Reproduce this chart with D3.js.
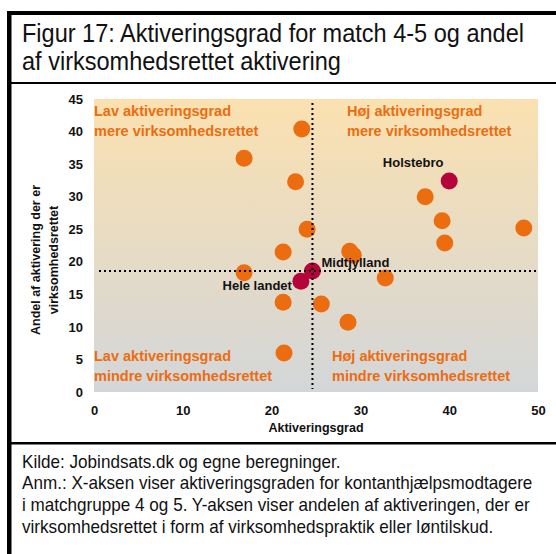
<!DOCTYPE html>
<html>
<head>
<meta charset="utf-8">
<script src="https://cdn.jsdelivr.net/npm/d3@7"></script>
<style>
  body { margin: 0; background: #fff; }
  svg { display: block; }
  .narrow { font-family: "Liberation Sans Narrow", "Arial Narrow", "Liberation Sans", Arial, sans-serif; }
  .bold { font-family: "Liberation Sans", Arial, sans-serif; font-weight: bold; }
</style>
</head>
<body>
<div id="chart"></div>
<script>
// data
const titleLines = ["Figur 17: Aktiveringsgrad for match 4-5 og andel", "af virksomhedsrettet aktivering"];
const noteLines = [
  "Kilde: Jobindsats.dk og egne beregninger.",
  "Anm.: X-aksen viser aktiveringsgraden for kontanthjælpsmodtagere",
  "i matchgruppe 4 og 5. Y-aksen viser andelen af aktiveringen, der er",
  "virksomhedsrettet i form af virksomhedspraktik eller løntilskud."
];
const xTicks = [0, 10, 20, 30, 40, 50];
const yTicks = [0, 5, 10, 15, 20, 25, 30, 35, 40, 45];

// kommuner (orange)
const kommuneX = [16.9, 23.4, 22.7, 24.0, 21.3, 16.9, 21.3, 25.6, 21.4, 28.6, 28.8, 29.2, 32.8, 37.3, 39.2, 39.5, 48.4];
const kommuneY = [35.9, 40.4, 32.3, 25.0, 21.5, 18.3, 13.8, 13.5, 6.0, 10.7, 21.6, 21.0, 17.5, 30.0, 26.3, 22.9, 25.2];

// highlighted (crimson)
const highlightNames = ["Holstebro", "Hele landet", "Midtjylland"];
const highlightX = [40.0, 23.3, 24.6];
const highlightY = [32.4, 17.0, 18.6];

// reference lines (Midtjylland)
const refX = 24.6;
const refY = 18.6;

const quadrantLabels = [
  ["Lav aktiveringsgrad", "mere virksomhedsrettet"],
  ["Høj aktiveringsgrad", "mere virksomhedsrettet"],
  ["Lav aktiveringsgrad", "mindre virksomhedsrettet"],
  ["Høj aktiveringsgrad", "mindre virksomhedsrettet"]
];

const W = 556, H = 554;
const orange = "#ec6d10";
const crimson = "#b5043a";

const svg = d3.select("#chart").append("svg")
  .attr("width", W)
  .attr("height", H);

// frame
svg.append("rect").attr("x", 7).attr("y", 11).attr("width", W - 7).attr("height", 4).attr("fill", "#000");
svg.append("rect").attr("x", 7).attr("y", 11).attr("width", 4.5).attr("height", H - 11).attr("fill", "#000");
svg.append("rect").attr("x", 7).attr("y", 82).attr("width", W - 7).attr("height", 2).attr("fill", "#000");
svg.append("rect").attr("x", 7).attr("y", 442).attr("width", W - 7).attr("height", 2.5).attr("fill", "#000");

// title (condensed look: taller font squeezed horizontally)
svg.append("g")
  .attr("transform", "translate(22,0) scale(0.905,1)")
  .selectAll("text")
  .data(titleLines)
  .enter()
  .append("text")
  .attr("class", "narrow")
  .attr("x", 0)
  .attr("y", (d, i) => 42 + i * 28)
  .attr("font-size", 26)
  .attr("fill", "#111")
  .text(d => d);

// notes
svg.append("g")
  .attr("transform", "translate(22,0) scale(0.935,1)")
  .selectAll("text")
  .data(noteLines)
  .enter()
  .append("text")
  .attr("class", "narrow")
  .attr("x", 0)
  .attr("y", (d, i) => 468 + i * 21.5)
  .attr("font-size", 18.3)
  .attr("fill", "#111")
  .text(d => d);

// scales
const x = d3.scaleLinear().domain([0, 50]).range([94, 538]);
const y = d3.scaleLinear().domain([0, 45]).range([392, 99]);

// background gradient
const grad = svg.append("defs").append("linearGradient")
  .attr("id", "bg")
  .attr("x1", 0).attr("y1", 0).attr("x2", 0).attr("y2", 1);
grad.append("stop").attr("offset", "0%").attr("stop-color", "#fbe1b0");
grad.append("stop").attr("offset", "100%").attr("stop-color", "#d3d6d9");

svg.append("rect")
  .attr("x", x(0))
  .attr("y", y(45))
  .attr("width", x(50) - x(0))
  .attr("height", y(0) - y(45))
  .attr("fill", "url(#bg)");

// axes (labels only)
const xAxis = d3.axisBottom(x).tickValues(xTicks).tickSize(0).tickPadding(0);
const yAxis = d3.axisLeft(y).tickValues(yTicks).tickSize(0).tickPadding(0);

const gx = svg.append("g")
  .attr("transform", "translate(0,406)")
  .call(xAxis);
const gy = svg.append("g")
  .attr("transform", "translate(83,0)")
  .call(yAxis);

[gx, gy].forEach(g => {
  g.select(".domain").remove();
  g.selectAll("text")
    .attr("class", "bold")
    .attr("font-size", 13)
    .attr("fill", "#111");
});
gx.selectAll("text").attr("dy", "0.71em").attr("y", 0);
gy.selectAll("text").attr("x", 0);

// axis titles
svg.append("text")
  .attr("class", "bold")
  .attr("x", (x(0) + x(50)) / 2)
  .attr("y", 432)
  .attr("text-anchor", "middle")
  .attr("font-size", 12.5)
  .attr("fill", "#111")
  .text("Aktiveringsgrad");

const yTitle = svg.append("text")
  .attr("class", "bold")
  .attr("transform", "translate(39.5,260) rotate(-90)")
  .attr("text-anchor", "middle")
  .attr("font-size", 12.5)
  .attr("fill", "#111");
yTitle.append("tspan").attr("x", 0).attr("y", 0).text("Andel af aktivering der er");
yTitle.append("tspan").attr("x", 0).attr("y", 18.5).text("virksomhedsrettet");

// quadrant labels
const qPos = [[94, 116], [347, 116], [94, 361], [332, 361]];
quadrantLabels.forEach((lines, i) => {
  const t = svg.append("text")
    .attr("class", "bold")
    .attr("font-size", 14.5)
    .attr("fill", orange);
  lines.forEach((l, j) => {
    t.append("tspan")
      .attr("x", qPos[i][0])
      .attr("y", qPos[i][1] + j * 19.5)
      .text(l);
  });
});

// points
const kommuner = kommuneX.map((d, i) => ({ x: d, y: kommuneY[i] }));
svg.append("g").selectAll("circle")
  .data(kommuner)
  .enter()
  .append("circle")
  .attr("cx", d => x(d.x))
  .attr("cy", d => y(d.y))
  .attr("r", 8.5)
  .attr("fill", orange);

const highlights = highlightNames.map((n, i) => ({ name: n, x: highlightX[i], y: highlightY[i] }));
svg.append("g").selectAll("circle")
  .data(highlights)
  .enter()
  .append("circle")
  .attr("cx", d => x(d.x))
  .attr("cy", d => y(d.y))
  .attr("r", 8.5)
  .attr("fill", crimson);

// reference lines
svg.append("line")
  .attr("x1", x(refX)).attr("x2", x(refX))
  .attr("y1", 103).attr("y2", 389)
  .attr("stroke", "#000")
  .attr("stroke-width", 2)
  .attr("stroke-dasharray", "2,3");
svg.append("line")
  .attr("x1", 99).attr("x2", 537)
  .attr("y1", y(refY)).attr("y2", y(refY))
  .attr("stroke", "#000")
  .attr("stroke-width", 2)
  .attr("stroke-dasharray", "2,3");

// point labels
const labelPos = {
  "Holstebro": { dx: -36, dy: -14, anchor: "middle" },
  "Hele landet": { dx: -9, dy: 9, anchor: "end" },
  "Midtjylland": { dx: 9, dy: -4, anchor: "start" }
};
svg.append("g").selectAll("text")
  .data(highlights)
  .enter()
  .append("text")
  .attr("class", "bold")
  .attr("font-size", 13)
  .attr("fill", "#111")
  .attr("x", d => x(d.x) + labelPos[d.name].dx)
  .attr("y", d => y(d.y) + labelPos[d.name].dy)
  .attr("text-anchor", d => labelPos[d.name].anchor)
  .text(d => d.name);
</script>
</body>
</html>
